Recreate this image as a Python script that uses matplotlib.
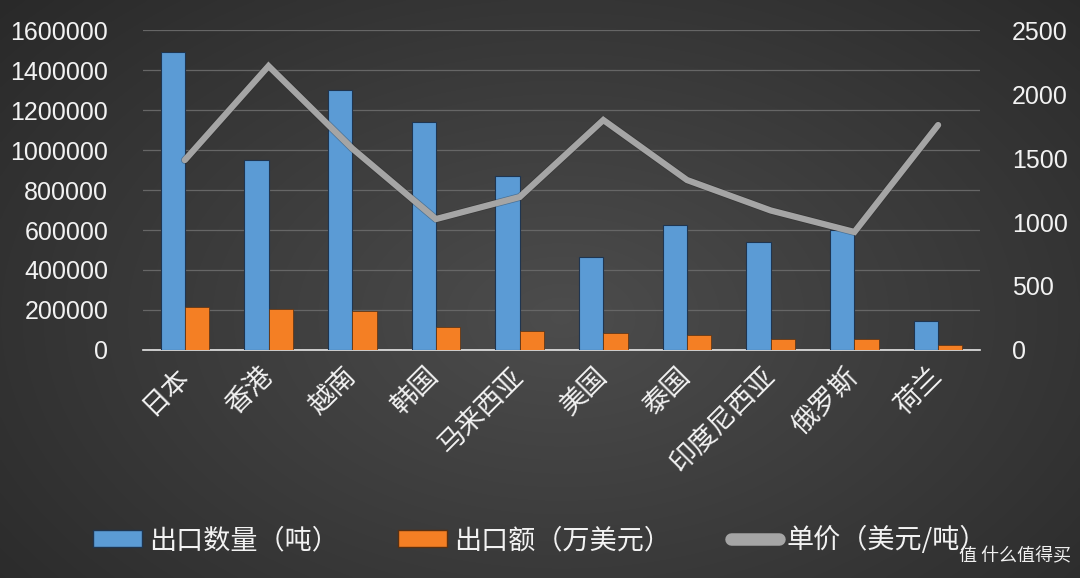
import numpy as np
import matplotlib
matplotlib.use("Agg")
import matplotlib.pyplot as plt
from matplotlib.lines import Line2D
from matplotlib.patches import Patch

plt.rcParams['font.family'] = ['Noto Sans CJK SC', 'DejaVu Sans']

categories = ['日本', '香港', '越南', '韩国', '马来西亚', '美国', '泰国', '印度尼西亚', '俄罗斯', '荷兰']
export_qty = [1490000, 950000, 1300000, 1140000, 870000, 465000, 625000, 540000, 600000, 145000]
export_val = [215000, 205000, 195000, 115000, 95000, 85000, 75000, 55000, 55000, 25000]
unit_price = [1484, 2219, 1575, 1023, 1195, 1797, 1328, 1090, 922, 1758]
left_ticks = [0, 200000, 400000, 600000, 800000, 1000000, 1200000, 1400000, 1600000]
right_ticks = [0, 500, 1000, 1500, 2000, 2500]
legend_labels = ['出口数量（吨）', '出口额（万美元）', '单价（美元/吨）']

blue = '#5b9bd5'
orange = '#f47f24'
gray = '#a5a5a5'
txt = '#f2f2f2'

fig = plt.figure(figsize=(10.8, 5.78), dpi=100)

# vignette background
bg = fig.add_axes([0, 0, 1, 1], zorder=-10)
yy, xx = np.mgrid[0:1:300j, 0:1:560j]
r = np.sqrt(((xx - 0.52) / 0.75) ** 2 + ((yy - 0.45) / 0.9) ** 2)
val = 0.30 - 0.15 * np.clip(r, 0, 1.2)
img = np.dstack([val, val, val])
bg.imshow(img, extent=[0, 1, 0, 1], aspect='auto', origin='lower', interpolation='bicubic')
bg.set_axis_off()

ax = fig.add_axes([0.1324, 0.3945, 0.7750, 0.5535])
ax.set_facecolor('none')
x = np.arange(len(categories))
w = 0.29
ax.bar(x - w / 2, export_qty, width=w, color=blue, edgecolor='#1f3550', linewidth=0.8, zorder=3)
ax.bar(x + w / 2, export_val, width=w, color=orange, edgecolor='#5a3010', linewidth=0.5, zorder=3)
ax.set_xlim(-0.5, len(categories) - 0.5)
ax.set_ylim(0, 1600000)
ax.set_yticks(left_ticks)
ax.set_yticklabels([str(v) for v in left_ticks], family=['Liberation Sans', 'DejaVu Sans'], fontsize=18, color=txt)
ax.yaxis.grid(True, color='#666666', linewidth=0.9, zorder=0)
ax.set_axisbelow(True)
for s in ['top', 'right', 'left']:
    ax.spines[s].set_visible(False)
ax.spines['bottom'].set_color('#e6e6e6')
ax.spines['bottom'].set_linewidth(1.2)
ax.tick_params(axis='y', length=0, pad=25)
ax.tick_params(axis='x', length=0, pad=16)
ax.set_xticks(x)
ax.set_xticklabels(categories, rotation=45, ha='right', va='center', rotation_mode='anchor',
                   fontsize=19.5, color=txt)

ax2 = ax.twinx()
ax2.set_ylim(0, 2500)
ax2.set_yticks(right_ticks)
ax2.set_yticklabels([str(v) for v in right_ticks], family=['Liberation Sans', 'DejaVu Sans'], fontsize=18, color=txt)
ax2.tick_params(axis='y', length=0, pad=23)
for s in ['top', 'right', 'left', 'bottom']:
    ax2.spines[s].set_visible(False)
ax2.plot(x, unit_price, color='#222222', linewidth=5.5, alpha=0.35, zorder=4,
         solid_capstyle='round', solid_joinstyle='round')
ax2.plot(x, unit_price, color=gray, linewidth=4.5, zorder=5,
         solid_capstyle='round', solid_joinstyle='miter')

handles = [Patch(facecolor=blue, edgecolor='#1f3550'),
           Patch(facecolor=orange, edgecolor='#5a3010'),
           Line2D([0], [0], color=gray, linewidth=9, solid_capstyle='round')]
leg = fig.legend(handles, legend_labels, loc='center', bbox_to_anchor=(0.500, 0.066), ncol=3,
                 frameon=False, fontsize=19.5, handlelength=1.8, handleheight=0.55,
                 handletextpad=0.25, columnspacing=2.2, labelcolor=txt)

fig.text(0.888, 0.038, '值 什么值得买', fontsize=13, color='#f0f0f0', ha='left', va='center')

fig.savefig('out.png', dpi=100)
